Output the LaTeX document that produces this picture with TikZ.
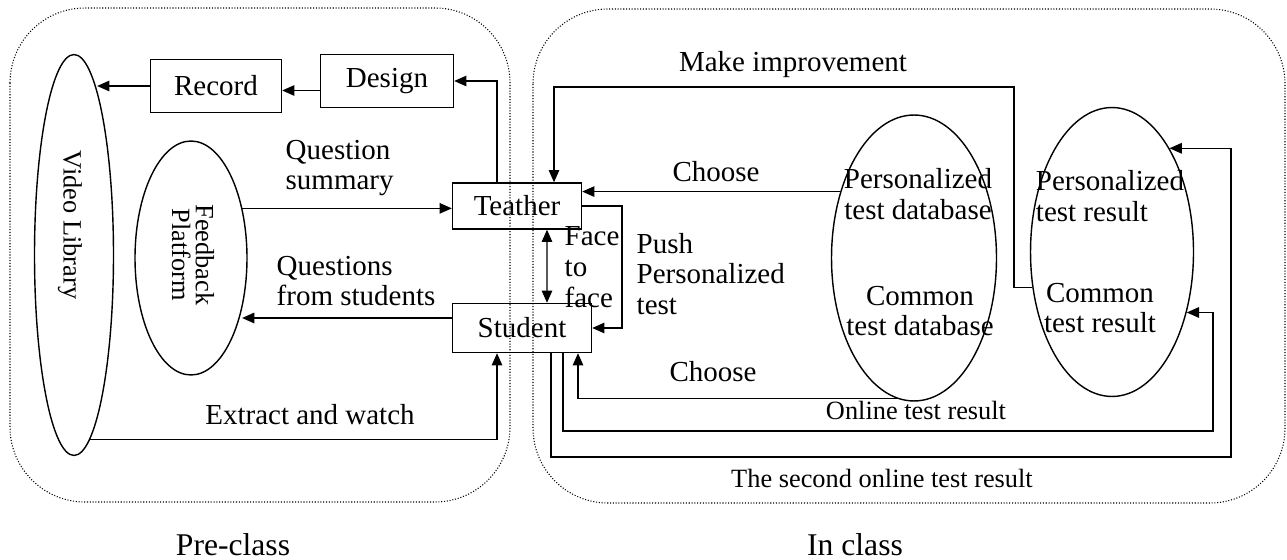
\documentclass[tikz,border=0pt]{standalone}
\usepackage{fontspec}
\setmainfont{Liberation Serif}
\usetikzlibrary{shapes.geometric,arrows.meta}

\begin{document}
\begin{tikzpicture}[x=0.02cm,y=-0.02cm,line width=0.8pt,>={Triangle[length=7pt,width=6pt]},
  font=\fontsize{16.5}{17.5}\selectfont,
  box/.style={draw,rectangle,inner sep=0pt},
  oval/.style={draw,ellipse,inner sep=0pt},
  zone/.style={draw,densely dotted,line width=0.6pt,rounded corners=1.5cm},
  lbl/.style={align=left,inner sep=0pt},
  side/.style={rotate=-90,align=center,inner sep=0pt,font=\fontsize{15}{13.5}\selectfont},
  small/.style={font=\fontsize{15}{17}\selectfont,inner sep=0pt}]
\useasboundingbox (0,0) rectangle (1287,560);
\draw[zone] (10,8) rectangle (510,502);
\draw[zone] (533,9) rectangle (1285,503);
\node[oval,minimum width=1.58cm,minimum height=8.02cm] (vid) at (74,255) {};
\node[side] (vidt) at (70,225) {Video Library};
\node[oval,minimum width=2.24cm,minimum height=4.68cm] (fb) at (191,258) {};
\node[side] (fbt) at (193,255) {Feedback\\Platform};
\node[box,minimum width=2.62cm,minimum height=1.06cm] (rec) at (216,86) {Record};
\node[box,minimum width=2.66cm,minimum height=1.06cm] (des) at (387,81) {Design};
\node[box,minimum width=2.58cm,minimum height=0.92cm] (tea) at (517,206) {Teather};
\node[box,minimum width=2.78cm,minimum height=0.98cm] (stu) at (522,328) {Student};
\node[oval,minimum width=3.3cm,minimum height=5.72cm] (db) at (914,258) {};
\node[oval,minimum width=3.26cm,minimum height=5.78cm] (res) at (1112,252) {};
\node[align=center,inner sep=0pt] (pdb) at (918,194) {Personalized\\test database};
\node[align=center,inner sep=0pt] (cdb) at (920,311) {Common\\test database};
\node[lbl] (pres) at (1110,196) {Personalized\\test result};
\node[align=center,inner sep=0pt] (cres) at (1100,308) {Common\\test result};
\coordinate (imp) at (1014,87);
\coordinate (onl) at (1213,431);
\coordinate (sec) at (1231,457);
\draw[->] ([yshift=-0.09cm]rec.east -| des.west) -- ([yshift=-0.09cm]rec.east);
\draw[->] (rec.west) -- (rec.west -| vid.82);
\draw[->] ([xshift=-0.4cm]tea.north) |- (des.east);
\draw[->] (fb.44) -- (fb.44 -| tea.west);
\draw[->] ([yshift=0.2cm]stu.west) -- ([yshift=0.2cm]stu.west -| fb.-45);
\draw[->] (vid.-85) -| ([xshift=-0.5cm]stu.south);
\draw[<->] ([xshift=0.6cm]tea.south) -- ([xshift=0.5cm]stu.north);
\draw[->] (tea.east) -- ++(40,0) |- (stu.east);
\draw[->] (res.204) -| (imp) -| ([xshift=0.74cm]tea.north);
\draw[->] (db.138) -- (db.138 -| tea.east);
\draw[->] (db.-97) -| ([xshift=1.12cm]stu.south);
\draw[->] ([xshift=0.82cm]stu.south) |- (onl) |- (res.-39);
\draw[->] ([xshift=0.58cm]stu.south) |- (sec) |- (res.61);
\node[lbl,anchor=west] (qs) at (285,168) {Question\\summary};
\node[lbl,anchor=west] (qfs) at (276,281) {Questions\\from students};
\node[inner sep=0pt] (ew) at (310,415) {Extract and watch};
\node[lbl,anchor=west] (ftf) at (564,267) {Face\\to\\face};
\node[lbl,anchor=west] (push) at (636,274) {Push\\Personalized\\test};
\node[inner sep=0pt] (mi) at (793,65) {Make improvement};
\node[inner sep=0pt] (ch1) at (716,172) {Choose};
\node[inner sep=0pt] (ch2) at (713,372) {Choose};
\node[small] (otr) at (916,410) {Online test result};
\node[small] (sotr) at (882,478) {The second online test result};
\node[font=\fontsize{18}{20}\selectfont,inner sep=0pt] (pre) at (233,545) {Pre-class};
\node[font=\fontsize{18}{20}\selectfont,inner sep=0pt] (inc) at (855,545) {In class};
\end{tikzpicture}
\end{document}
